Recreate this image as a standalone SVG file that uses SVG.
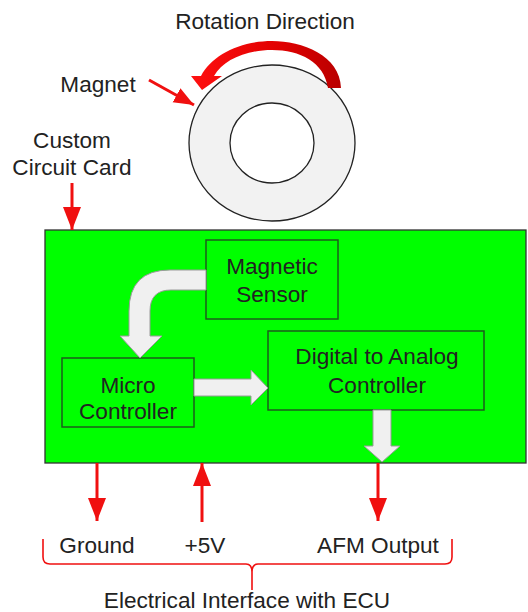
<svg xmlns="http://www.w3.org/2000/svg" width="528" height="612" viewBox="0 0 528 612">
<style>
text{font-family:"Liberation Sans",Arial,sans-serif;font-size:22.6px;fill:#222;text-anchor:middle}
.box{fill:#00ff00;stroke:#1d5c1d;stroke-width:1.5}
.red{stroke:#f01010;stroke-width:3;fill:none}
.block{fill:#f0f0f0;stroke:#9a9a9a;stroke-width:1}
</style>
<defs>
<marker id="ah" markerUnits="userSpaceOnUse" markerWidth="24" markerHeight="20" refX="23" refY="9" orient="auto">
<path d="M0,0 L23,9 L0,18 Z" fill="#f01010"/>
</marker>
<marker id="ahs" markerUnits="userSpaceOnUse" markerWidth="22" markerHeight="18" refX="20" refY="8" orient="auto">
<path d="M0,0 L20,8 L0,16 Z" fill="#f01010"/>
</marker>
<linearGradient id="rot" x1="190" y1="0" x2="342" y2="0" gradientUnits="userSpaceOnUse">
<stop offset="0" stop-color="#ff1010"/>
<stop offset="0.6" stop-color="#e00000"/>
<stop offset="1" stop-color="#b80000"/>
</linearGradient>
</defs>

<g id="ring">
<ellipse cx="272" cy="143" rx="83" ry="78" fill="#f2f2f2" stroke="#222" stroke-width="1.3"/>
<ellipse cx="272" cy="143" rx="42" ry="40" fill="#ffffff" stroke="#222" stroke-width="1.3"/>
</g>

<g id="rotation-arrow">
<path d="M341,88 C340,55 302,41 272,41 C240,41 212,55 201,76 L191,76 L202,90 L222,76 L214,76 C223,60 246,50 272,50 C300,50 324,62 328,88 Z" fill="url(#rot)"/>
</g>

<g id="card">
<rect x="45" y="230" width="481" height="233" fill="#00ff00" stroke="#333" stroke-width="1.3"/>
</g>

<g id="sensor">
<rect class="box" x="206" y="240" width="132" height="79"/>
<text x="272" y="274">Magnetic</text>
<text x="272" y="302">Sensor</text>
</g>

<g id="micro">
<rect class="box" x="62" y="358" width="132" height="69"/>
<text x="128" y="393">Micro</text>
<text x="128" y="419">Controller</text>
</g>

<g id="dac">
<rect class="box" x="268" y="331" width="216" height="79"/>
<text x="377" y="364">Digital to Analog</text>
<text x="377" y="393">Controller</text>
</g>

<g id="labels">
<text x="265" y="29">Rotation Direction</text>
<text x="98" y="92">Magnet</text>
<text x="72" y="148">Custom</text>
<text x="72" y="175">Circuit Card</text>
<text x="97" y="553">Ground</text>
<text x="205" y="553">+5V</text>
<text x="378" y="553">AFM Output</text>
<text x="247" y="608">Electrical Interface with ECU</text>
</g>

<g id="connectors">
<path class="block" d="M206,270 L170,270 Q129,270 129,311 L129,336 L120,336 L140,358 L162,336 L150,336 L150,311 Q150,290 171,290 L206,290 Z"/>
<path class="block" d="M194,379 L251,379 L251,370 L268,388 L251,405 L251,396 L194,396 Z"/>
<path class="block" d="M373,410 L391,410 L391,446 L400,446 L382,462 L364,446 L373,446 Z"/>
<line class="red" x1="149" y1="80" x2="194" y2="105" marker-end="url(#ahs)"/>
<line class="red" x1="72" y1="183" x2="72" y2="230" marker-end="url(#ah)"/>
<line class="red" x1="97" y1="463" x2="97" y2="521" marker-end="url(#ah)"/>
<line class="red" x1="202" y1="522" x2="202" y2="463" marker-end="url(#ah)"/>
<line class="red" x1="378" y1="463" x2="378" y2="521" marker-end="url(#ah)"/>
<path d="M43,539 L43,557 Q43,564 50,564 L246,564 Q252,564 252,572 L252,590 M252,572 Q252,564 258,564 L445,564 Q452,564 452,557 L452,539" fill="none" stroke="#f01010" stroke-width="1.6"/>
</g>
</svg>
